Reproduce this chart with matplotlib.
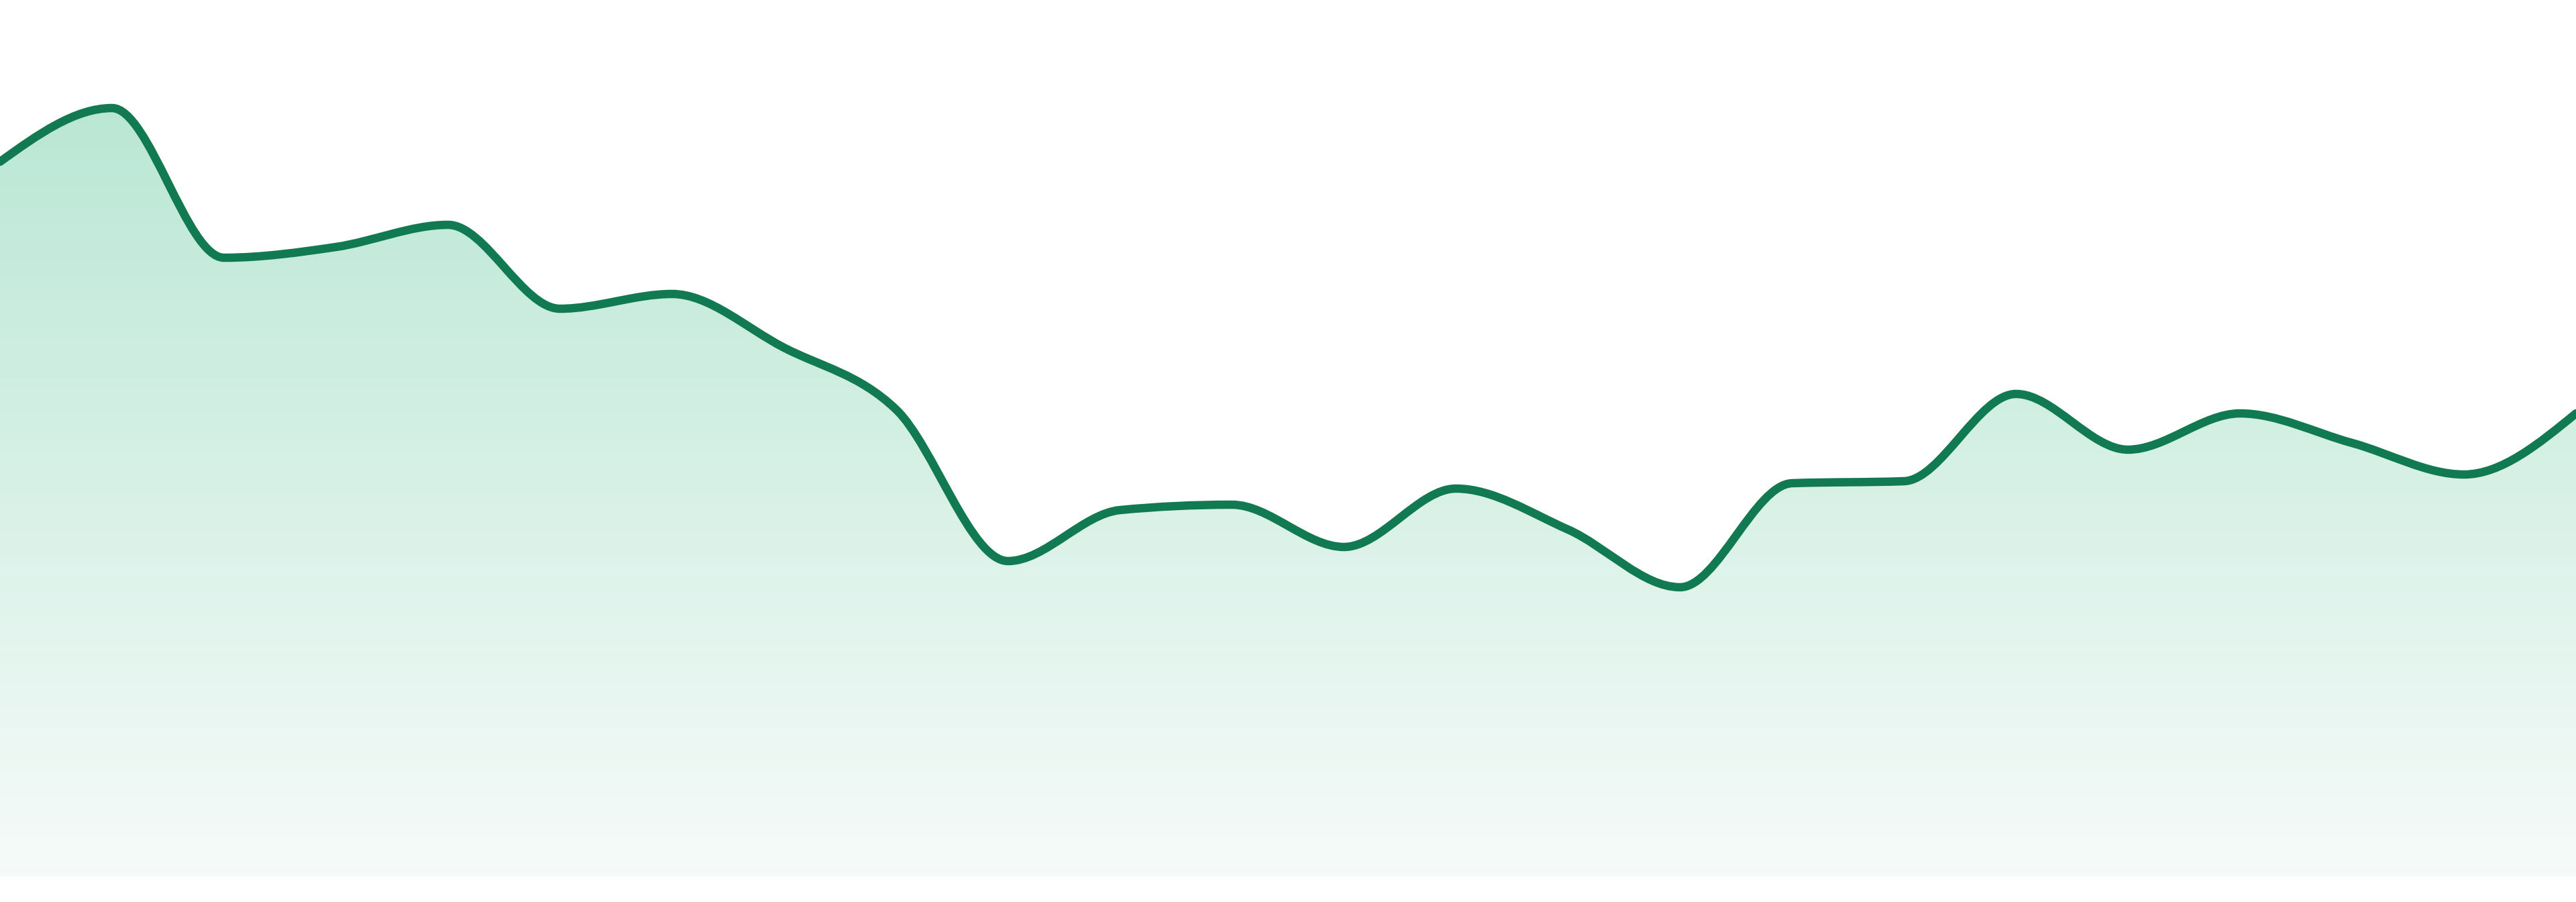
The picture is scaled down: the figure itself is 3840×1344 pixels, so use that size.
import numpy as np
import matplotlib.pyplot as plt
from matplotlib.path import Path
from matplotlib.patches import PathPatch
from matplotlib.colors import LinearSegmentedColormap

# series values (height above the baseline)
values = [1065, 1145, 922, 938, 971, 846, 868, 788, 696, 470, 546, 554,
          491, 578, 517, 431, 586, 589, 719, 636, 690, 646, 599, 690]
line_color = "#117a52"
fill_top = "#bae7d5"
fill_bottom = "#f6fbf9"


def monotone_tangents(xs, ys):
    # same slopes as d3.curveMonotoneX
    h = np.diff(xs)
    s = np.diff(ys) / h
    t = np.zeros(len(xs))
    for i in range(1, len(xs) - 1):
        p = (s[i - 1] * h[i] + s[i] * h[i - 1]) / (h[i - 1] + h[i])
        t[i] = (np.sign(s[i - 1]) + np.sign(s[i])) * min(abs(s[i - 1]), abs(s[i]), 0.5 * abs(p))
    t[0] = (3 * s[0] - t[1]) / 2
    t[-1] = (3 * s[-1] - t[-2]) / 2
    return t


def curve_path(xs, ys, close_to=None):
    t = monotone_tangents(xs, ys)
    verts = [(xs[0], ys[0])]
    codes = [Path.MOVETO]
    for i in range(len(xs) - 1):
        dx = (xs[i + 1] - xs[i]) / 3
        verts += [(xs[i] + dx, ys[i] + dx * t[i]),
                  (xs[i + 1] - dx, ys[i + 1] - dx * t[i + 1]),
                  (xs[i + 1], ys[i + 1])]
        codes += [Path.CURVE4] * 3
    if close_to is not None:
        verts += [(xs[-1], close_to), (xs[0], close_to), (xs[0], ys[0])]
        codes += [Path.LINETO, Path.LINETO, Path.CLOSEPOLY]
    return Path(verts, codes)


x = np.arange(len(values), dtype=float)
y = np.array(values, dtype=float)

fig = plt.figure(figsize=(38.4, 13.44), dpi=100)
ax = fig.add_axes([0, 0, 1, 1])
ax.axis("off")

# gradient area
area = PathPatch(curve_path(x, y, close_to=0), facecolor="none", edgecolor="none")
ax.add_patch(area)
cmap = LinearSegmentedColormap.from_list("fade", [fill_bottom, fill_top])
grad = np.linspace(0, 1, 256).reshape(-1, 1)
img = ax.imshow(grad, cmap=cmap, origin="lower", aspect="auto",
                extent=[0, len(values) - 1, 0, y.max()], zorder=1)
img.set_clip_path(area)

# line
ax.add_patch(PathPatch(curve_path(x, y), facecolor="none", edgecolor=line_color,
                       lw=9, joinstyle="round", capstyle="round", zorder=2))

ax.set_xlim(0, len(values) - 1)
ax.set_ylim(-38, 1306)
fig.savefig("out.png", dpi=100, facecolor="white")
